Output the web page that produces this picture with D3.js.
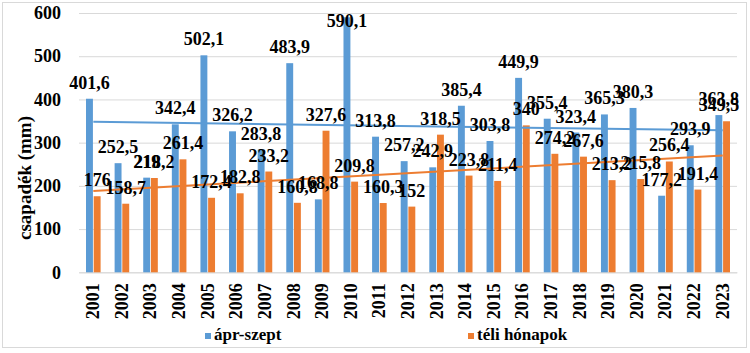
<!DOCTYPE html>
<html>
<head>
<meta charset="utf-8">
<script src="https://cdn.jsdelivr.net/npm/d3@7"></script>
<style>
  body { margin: 0; background: #fff; }
</style>
</head>
<body>
<svg id="chart" width="750" height="353"></svg>
<script>
const years = ["2001","2002","2003","2004","2005","2006","2007","2008","2009","2010","2011","2012",
  "2013","2014","2015","2016","2017","2018","2019","2020","2021","2022","2023"];
const summerRain = [401.6, 252.5, 219, 342.4, 502.1, 326.2, 283.8, 483.9, 168.8, 590.1, 313.8, 257.2,
  242.9, 385.4, 303.8, 449.9, 355.4, 323.4, 365.3, 380.3, 177.2, 293.9, 363.8];
const winterRain = [176, 158.7, 218.2, 261.4, 172.4, 182.8, 233.2, 160.8, 327.6, 209.8, 160.3, 152,
  318.5, 223.8, 211.4, 340, 274.2, 267.6, 213.2, 215.8, 256.4, 191.4, 349.5];
const seriesNames = ["ápr-szept", "téli hónapok"];
const colors = ["#5b9bd5", "#ed7d31"];
const yTicks = [0, 100, 200, 300, 400, 500, 600];

const FONT = "Times New Roman, Liberation Serif, serif";

const svg = d3.select("svg#chart");
const margin = { top: 13, right: 13, bottom: 81, left: 79 };
const chartWidth = 750 - margin.left - margin.right;
const chartHeight = 259.3;

// outer frame
svg.append("rect")
  .attr("x", 2.5).attr("y", 2.5)
  .attr("width", 744).attr("height", 345)
  .attr("fill", "none").attr("stroke", "#d9d9d9");

const chartArea = svg.append("g").attr("transform", `translate(${margin.left},${margin.top})`);

const y = d3.scaleLinear().domain([0, 600]).range([chartHeight, 0]);
const x = d3.scaleBand().domain(years).range([0, chartWidth]).paddingInner(0.49).paddingOuter(0.245);
const x1 = d3.scaleBand().domain([0, 1]).range([0, x.bandwidth()]).paddingInner(0.1);

// gridlines
chartArea.append("g")
  .call(d3.axisLeft(y).tickValues(yTicks).tickSize(-chartWidth).tickFormat(""))
  .call(g => g.select(".domain").remove())
  .call(g => g.selectAll("line").attr("stroke", "#d9d9d9"));

// y labels
chartArea.append("g")
  .call(d3.axisLeft(y).tickValues(yTicks).tickSize(0).tickPadding(18))
  .call(g => g.select(".domain").remove())
  .attr("font-family", FONT).attr("font-size", 18).attr("font-weight", "bold");

// x axis
const bottomAxis = chartArea.append("g")
  .attr("transform", `translate(0,${chartHeight})`)
  .call(d3.axisBottom(x).tickSize(0).tickPadding(0))
  .attr("font-family", FONT).attr("font-size", 18).attr("font-weight", "bold");
bottomAxis.select(".domain").attr("stroke", "#d9d9d9");
bottomAxis.selectAll("text")
  .attr("transform", "rotate(-90)")
  .attr("text-anchor", "end")
  .attr("x", -11)
  .attr("y", 0)
  .attr("dy", "0.33em");

const series = [summerRain, winterRain];

// bars
series.forEach((vals, si) => {
  chartArea.append("g").selectAll("rect")
    .data(vals)
    .join("rect")
    .attr("x", (d, i) => x(years[i]) + x1(si))
    .attr("width", x1.bandwidth())
    .attr("y", d => y(d))
    .attr("height", d => chartHeight - y(d))
    .attr("fill", colors[si]);
});

// linear trendlines
series.forEach((vals, si) => {
  const n = vals.length;
  const mx = (n - 1) / 2;
  const my = d3.mean(vals);
  let num = 0, den = 0;
  vals.forEach((v, i) => { num += (i - mx) * (v - my); den += (i - mx) * (i - mx); });
  const slope = num / den;
  const icpt = my - slope * mx;
  chartArea.append("path")
    .datum([0, n - 1])
    .attr("fill", "none")
    .attr("stroke", colors[si])
    .attr("stroke-width", 2)
    .attr("d", d3.line()
      .x(i => x(years[i]) + x.bandwidth() / 2)
      .y(i => y(icpt + slope * i)));
});

// data labels (kept inside the plot area like the spreadsheet does)
const fmt = v => String(v).replace(".", ",");
series.forEach((vals, si) => {
  chartArea.append("g")
    .attr("font-family", FONT).attr("font-size", 18).attr("font-weight", "bold")
    .selectAll("text")
    .data(vals)
    .join("text")
    .attr("x", (d, i) => Math.min(x(years[i]) + x1(si) + x1.bandwidth() / 2, chartWidth - 18))
    .attr("y", d => Math.max(y(d) - 10, 14))
    .attr("text-anchor", "middle")
    .text(d => fmt(d));
});

// y title
svg.append("text")
  .attr("transform", "translate(31,178) rotate(-90)")
  .attr("text-anchor", "middle")
  .attr("font-family", FONT).attr("font-size", 19).attr("font-weight", "bold")
  .text("csapadék (mm)");

// legend
const legendX = [205, 468];
seriesNames.forEach((name, si) => {
  const g = svg.append("g").attr("transform", `translate(${legendX[si]},333)`)
    .attr("font-family", FONT).attr("font-size", 17).attr("font-weight", "bold");
  g.append("rect").attr("width", 6).attr("height", 6).attr("fill", colors[si]);
  g.append("text").attr("x", 9).attr("y", 7).text(name);
});
</script>
</body>
</html>
